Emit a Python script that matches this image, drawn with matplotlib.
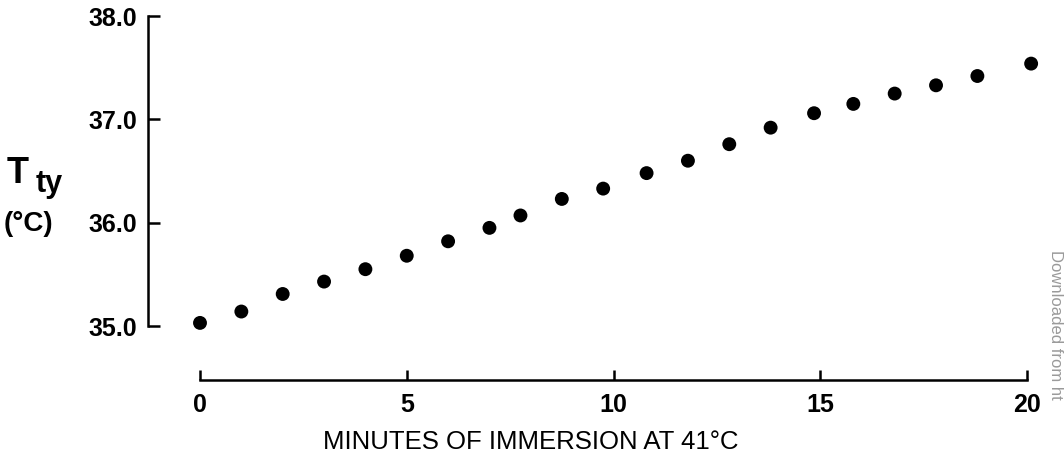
import matplotlib
matplotlib.use("Agg")
import matplotlib.pyplot as plt

# ---- data ----
minutes = [0, 1, 2, 3, 4, 5, 6, 7, 7.75, 8.75, 9.75, 10.8, 11.8, 12.8,
           13.8, 14.85, 15.8, 16.8, 17.8, 18.8, 20.1]
t_ty = [35.03, 35.14, 35.31, 35.43, 35.55, 35.68, 35.82, 35.95, 36.07,
        36.23, 36.33, 36.48, 36.60, 36.76, 36.92, 37.06, 37.15, 37.25,
        37.33, 37.42, 37.54]
x_ticks = [0, 5, 10, 15, 20]
x_ticklabels = ["0", "5", "10", "15", "20"]
y_ticks = [35.0, 36.0, 37.0, 38.0]
y_ticklabels = ["35.0", "36.0", "37.0", "38.0"]

plt.rcParams['font.family'] = ['Liberation Sans', 'DejaVu Sans']

W, H = 1064, 459
fig = plt.figure(figsize=(W / 100, H / 100), dpi=100)

# pixel layout
px_x0, px_per_min = 200.0, 41.35
px_y35, px_per_deg = 326.0, 103.3
left_px, right_px, top_px, bottom_px = 148, 1045, 8, 380

ax = fig.add_axes([left_px / W, 1 - bottom_px / H,
                   (right_px - left_px) / W, (bottom_px - top_px) / H])
ax.set_xlim((left_px - px_x0) / px_per_min, (right_px - px_x0) / px_per_min)
ax.set_ylim(35 - (bottom_px - px_y35) / px_per_deg,
            35 + (px_y35 - top_px) / px_per_deg)

ax.scatter(minutes, t_ty, s=100, color='black', edgecolors='none',
           clip_on=False, zorder=3)

for s in ['top', 'right']:
    ax.spines[s].set_visible(False)
ax.spines['left'].set_bounds(35, 38)
ax.spines['bottom'].set_bounds(0, 20)
for s in ['left', 'bottom']:
    ax.spines[s].set_linewidth(1.8)

ax.set_xticks(x_ticks)
ax.set_xticklabels(x_ticklabels, fontsize=18, fontweight='bold')
ax.set_yticks(y_ticks)
ax.set_yticklabels(y_ticklabels, fontsize=18, fontweight='bold')
ax.tick_params(axis='y', direction='in', length=8.5, width=1.8, pad=8)
ax.tick_params(axis='x', direction='in', length=7, width=1.8, pad=9)

ax.set_xlabel("MINUTES OF IMMERSION AT 41°C", fontsize=18.5, labelpad=4)
ax.xaxis.set_label_coords((531 - left_px) / (right_px - left_px), -0.135)

# y-axis label: T with subscript ty, and (°C) below
fig.text(7 / W, 1 - 183 / H, "T", fontsize=26, fontweight='bold',
         ha='left', va='baseline')
fig.text(36 / W, 1 - 192 / H, "ty", fontsize=22, fontweight='bold',
         ha='left', va='baseline')
fig.text(4 / W, 1 - 231 / H, "(°C)", fontsize=20, fontweight='bold',
         ha='left', va='baseline')

# scanned-page watermark at right edge
fig.text(1048 / W, 1 - 250 / H, "Downloaded from ht", fontsize=12,
         color='#9a9a9a', rotation=-90, ha='left', va='top')

fig.savefig("out.png", dpi=100)
